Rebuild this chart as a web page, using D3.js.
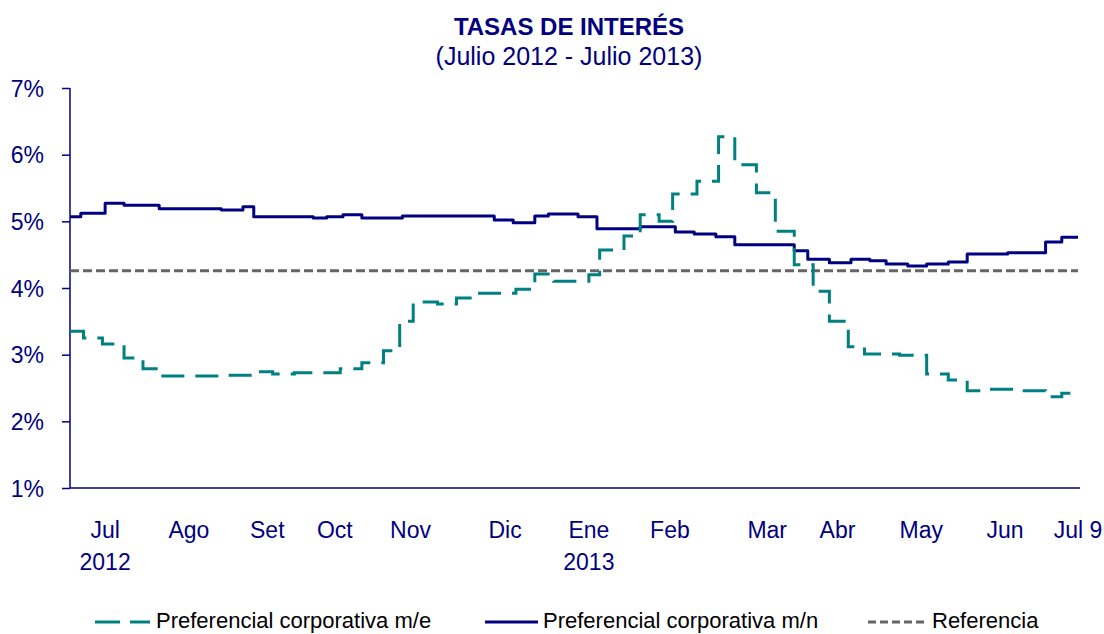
<!DOCTYPE html>
<html>
<head>
<meta charset="utf-8">
<script src="https://cdn.jsdelivr.net/npm/d3@7"></script>
<style>
  body { margin: 0; background: #fff; }
  svg { display: block; }
  text { font-family: Arial, "Liberation Sans", sans-serif; fill: #000080; }
</style>
</head>
<body>
<svg id="chart" width="1104" height="634"></svg>
<script>
// datos
const yTicks = [1, 2, 3, 4, 5, 6, 7]
const monthLabels = ['Jul', 'Ago', 'Set', 'Oct', 'Nov', 'Dic', 'Ene', 'Feb', 'Mar', 'Abr', 'May', 'Jun', 'Jul 9']
const monthDates = ['2012-07-14', '2012-08-14', '2012-09-12', '2012-10-07', '2012-11-04', '2012-12-09',
  '2013-01-09', '2013-02-08', '2013-03-16', '2013-04-11', '2013-05-12', '2013-06-12', '2013-07-09']
const yearLabels = ['2012', '', '', '', '', '', '2013', '', '', '', '', '', '']

// preferencial corporativa m/n (fechas de cambio y tasa)
const mnDates = ['2012-07-01', '2012-07-05', '2012-07-14', '2012-07-21', '2012-08-03', '2012-08-26',
  '2012-09-03', '2012-09-07', '2012-09-29', '2012-10-04', '2012-10-10', '2012-10-17', '2012-11-01',
  '2012-12-05', '2012-12-12', '2012-12-20', '2012-12-25', '2013-01-05', '2013-01-12', '2013-01-28',
  '2013-02-10', '2013-02-17', '2013-02-25', '2013-03-04', '2013-03-26', '2013-03-31', '2013-04-08',
  '2013-04-16', '2013-04-23', '2013-04-29', '2013-05-07', '2013-05-14', '2013-05-22', '2013-05-29',
  '2013-06-13', '2013-06-27', '2013-07-03', '2013-07-09']
const mnValues = [5.07, 5.12, 5.27, 5.24, 5.19, 5.17,
  5.22, 5.07, 5.05, 5.07, 5.10, 5.05, 5.08,
  5.02, 4.98, 5.08, 5.11, 5.07, 4.89, 4.92,
  4.84, 4.81, 4.77, 4.65, 4.56, 4.43, 4.38,
  4.43, 4.41, 4.36, 4.33, 4.36, 4.39, 4.51,
  4.53, 4.69, 4.76, 4.76]

// preferencial corporativa m/e
const meDates = ['2012-07-01', '2012-07-06', '2012-07-13', '2012-07-21', '2012-07-28', '2012-08-03',
  '2012-08-28', '2012-09-07', '2012-09-14', '2012-09-22', '2012-10-09', '2012-10-17', '2012-10-25',
  '2012-10-31', '2012-11-05', '2012-11-14', '2012-11-21', '2012-11-28', '2012-12-13', '2012-12-20',
  '2012-12-27', '2013-01-09', '2013-01-13', '2013-01-22', '2013-01-28', '2013-02-04', '2013-02-09',
  '2013-02-18', '2013-02-26', '2013-03-04', '2013-03-12', '2013-03-19', '2013-03-26', '2013-04-02',
  '2013-04-08', '2013-04-15', '2013-04-21', '2013-05-04', '2013-05-14', '2013-05-22', '2013-05-29',
  '2013-06-04', '2013-06-17', '2013-06-27', '2013-07-03', '2013-07-09']
const meValues = [3.35, 3.25, 3.16, 2.95, 2.79, 2.68,
  2.69, 2.745, 2.71, 2.73, 2.79, 2.88, 3.06,
  3.50, 3.79, 3.76, 3.85, 3.92, 3.98, 4.21,
  4.10, 4.20, 4.57, 4.78, 5.10, 5.00, 5.41,
  5.60, 6.27, 5.85, 5.43, 4.85, 4.35, 3.95,
  3.50, 3.12, 3.01, 2.99, 2.71, 2.62, 2.46,
  2.48, 2.46, 2.37, 2.42, 2.42]

// referencia
const refDates = ['2012-07-01', '2013-07-09']
const refValues = [4.26, 4.26]

const legendNames = ['Preferencial corporativa m/e', 'Preferencial corporativa m/n', 'Referencia']

const parse = d3.timeParse('%Y-%m-%d')

let svg = d3.select('#chart')

let plotLeft = 70
let plotRight = 1080
let plotTop = 88
let plotBottom = 488

let x = d3.scaleTime()
  .domain([parse('2012-07-01'), parse('2013-07-09')])
  .range([plotLeft, 1078])

let y = d3.scaleLinear().domain([1, 7]).range([plotBottom, plotTop])

// titulo
svg.append('text')
  .attr('x', 569).attr('y', 35)
  .attr('text-anchor', 'middle')
  .style('font-size', '24px').style('font-weight', 'bold')
  .text('TASAS DE INTERÉS')
svg.append('text')
  .attr('x', 569).attr('y', 65)
  .attr('text-anchor', 'middle')
  .style('font-size', '25px')
  .text('(Julio 2012 - Julio 2013)')

// eje y
let yAxis = svg.append('g')
  .attr('transform', `translate(${plotLeft},0)`)
  .call(d3.axisLeft(y).tickValues(yTicks).tickSize(8).tickPadding(18).tickFormat(d => d + '%'))
yAxis.select('.domain').attr('stroke', '#000080').attr('stroke-width', 1.5)
  .attr('d', `M0,${plotTop}V${plotBottom}`)
yAxis.selectAll('.tick line').attr('stroke', '#000080').attr('stroke-width', 1.5)
yAxis.selectAll('.tick text')
  .style('font-size', '23px').style('font-family', 'Arial, "Liberation Sans", sans-serif')
  .attr('fill', '#000080').attr('dy', '0.36em')

// eje x
svg.append('line')
  .attr('x1', plotLeft).attr('x2', plotRight)
  .attr('y1', plotBottom).attr('y2', plotBottom)
  .attr('stroke', '#000080').attr('stroke-width', 1.5)

let xl = svg.append('g').attr('class', 'xlabels')
monthLabels.forEach((m, i) => {
  let cx = x(parse(monthDates[i]))
  xl.append('text')
    .attr('x', cx).attr('y', 538)
    .attr('text-anchor', 'middle')
    .style('font-size', '23px')
    .text(m)
  if (yearLabels[i]) {
    xl.append('text')
      .attr('x', cx).attr('y', 570)
      .attr('text-anchor', 'middle')
      .style('font-size', '23px')
      .text(yearLabels[i])
  }
})

// lineas
let line = d3.line()
  .x(d => x(d.date))
  .y(d => y(d.value))
  .curve(d3.curveStepAfter)

let toPoints = (dates, values) => dates.map((d, i) => ({date: parse(d), value: values[i]}))

svg.append('path')
  .datum(toPoints(refDates, refValues))
  .attr('d', line)
  .attr('fill', 'none')
  .attr('stroke', '#666666')
  .attr('stroke-width', 3)
  .attr('stroke-dasharray', '9,4')

svg.append('path')
  .datum(toPoints(mnDates, mnValues))
  .attr('d', line)
  .attr('fill', 'none')
  .attr('stroke', '#000080')
  .attr('stroke-width', 3)
  .attr('stroke-linejoin', 'round')

svg.append('path')
  .datum(toPoints(meDates, meValues))
  .attr('d', line)
  .attr('fill', 'none')
  .attr('stroke', '#008080')
  .attr('stroke-width', 3)
  .attr('stroke-dasharray', '23,11')

// leyenda
let legend = svg.append('g')
let legendItems = [
  {x1: 95, x2: 150, tx: 156, color: '#008080', dash: '25,10'},
  {x1: 485, x2: 538, tx: 543, color: '#000080', dash: null},
  {x1: 868, x2: 927, tx: 932, color: '#666666', dash: '8,4'}
]
legendItems.forEach((it, i) => {
  legend.append('line')
    .attr('x1', it.x1).attr('x2', it.x2)
    .attr('y1', 622).attr('y2', 622)
    .attr('stroke', it.color).attr('stroke-width', 3)
    .attr('stroke-dasharray', it.dash)
  legend.append('text')
    .attr('x', it.tx).attr('y', 628)
    .style('font-size', '22px')
    .style('fill', '#000')
    .text(legendNames[i])
})
</script>
</body>
</html>
